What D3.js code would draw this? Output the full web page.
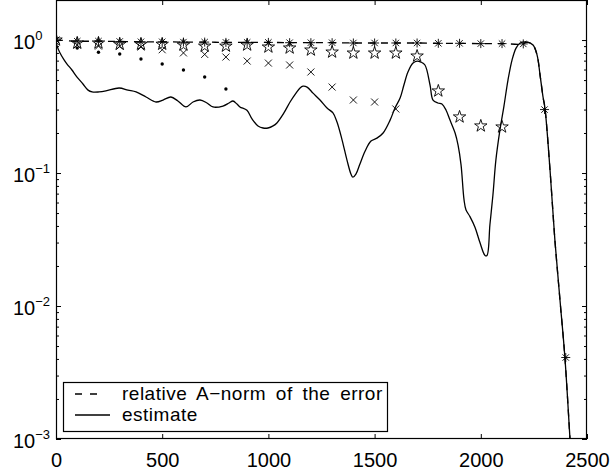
<!DOCTYPE html>
<html>
<head>
<meta charset="utf-8">
<script src="https://cdn.jsdelivr.net/npm/d3@7"></script>
<style>
  body { margin: 0; background: #fff; }
  svg { font-family: "Liberation Sans", Arial, sans-serif; }
  .domain { display: none; }
  .tick line { stroke: #000; stroke-width: 1; }
</style>
</head>
<body>
<svg id="viz" width="611" height="474"></svg>
<script>
// relative A-norm of the error (asterisks + dashed line)
var errIter = [0,100,200,300,400,500,600,700,800,900,1000,1100,1200,1300,1400,1500,1600,1700,1800,1900,2000,2100,2200,2300,2400];
var errVal  = [1,0.98,0.98,0.975,0.97,0.97,0.965,0.965,0.96,0.96,0.96,0.955,0.955,0.955,0.95,0.95,0.95,0.95,0.945,0.945,0.94,0.94,0.935,0.3,0.0041];
// dashed line after 2200 (runs together with the estimate)
var errTailIter = [2217,2246,2265,2279,2293,2302,2326,2349,2373,2396,2420,2429];
var errTailVal  = [0.966,0.917,0.771,0.545,0.373,0.308,0.105,0.031,0.011,0.0041,0.001,0.0006];

// other estimates shown with markers only
var starIter = [0,100,200,300,400,500,600,700,800,900,1000,1100,1200,1300,1400,1500,1600,1700,1800,1900,2000,2100];
var starVal  = [1,0.95,0.95,0.93,0.93,0.93,0.917,0.9,0.9,0.917,0.886,0.871,0.841,0.812,0.798,0.798,0.798,0.758,0.414,0.264,0.226,0.222];
var crossIter = [0,100,200,300,400,500,600,700,800,900,1000,1100,1200,1300,1400,1500,1600];
var crossVal  = [1,0.917,0.9,0.9,0.886,0.845,0.8,0.78,0.745,0.695,0.671,0.649,0.575,0.443,0.354,0.342,0.303];
var dotIter = [0,100,200,300,400,500,600,700,800];
var dotVal  = [1,0.87,0.81,0.785,0.72,0.66,0.595,0.527,0.428];

// estimate (solid line)
var estIter = [0,5,19,38,52,75,99,127,151,170,202,235,297,339,377,424,471,504,541,574,612,645,678,711,739,786,815,833,852,866,899,923,951,975,998,1022,1040,1073,1102,1130,1149,1163,1182,1210,1243,1276,1304,1323,1347,1370,1389,1398,1412,1431,1455,1483,1511,1540,1573,1596,1620,1638,1657,1681,1700,1718,1737,1761,1775,1798,1817,1836,1855,1879,1893,1907,1921,1930,1949,1973,1996,2020,2029,2043,2057,2071,2090,2109,2128,2147,2166,2185,2217,2246,2265,2279,2293,2302,2326,2349,2373,2396,2420,2429];
var estVal  = [1,0.9,0.8,0.71,0.66,0.595,0.527,0.467,0.42,0.407,0.407,0.414,0.436,0.42,0.407,0.373,0.342,0.354,0.373,0.348,0.314,0.342,0.354,0.336,0.314,0.319,0.336,0.348,0.33,0.314,0.296,0.255,0.226,0.218,0.218,0.226,0.238,0.283,0.342,0.399,0.436,0.45,0.443,0.399,0.354,0.308,0.283,0.242,0.177,0.125,0.098,0.093,0.098,0.117,0.146,0.174,0.183,0.2,0.25,0.308,0.366,0.459,0.575,0.671,0.695,0.683,0.649,0.459,0.354,0.336,0.33,0.298,0.25,0.2,0.162,0.115,0.063,0.053,0.047,0.039,0.03,0.024,0.024,0.041,0.068,0.125,0.21,0.319,0.5,0.707,0.87,0.949,0.966,0.917,0.771,0.545,0.373,0.308,0.105,0.031,0.011,0.0041,0.001,0.0006];

var xTicks = [0,500,1000,1500,2000,2500];
var yTicks = [1e-3,1e-2,1e-1,1];
var yExp = ["\u22123","\u22122","\u22121","0"];
var legendLabels = ["relative A\u2212norm of the error", "estimate"];

var margin = {left: 56, right: 24, top: 0, bottom: 35};
var W = 611, H = 474;
var plotW = W - margin.left - margin.right;   // 531
var plotH = H - margin.top - margin.bottom;   // 439

var svg = d3.select("#viz");
var x = d3.scaleLinear().domain([0, 2500]).range([margin.left, margin.left + plotW]);
var y = d3.scaleLog().domain([1e-3, 2]).range([margin.top + plotH, margin.top]);

svg.append("clipPath").attr("id", "clip")
  .append("rect").attr("x", margin.left).attr("y", margin.top).attr("width", plotW).attr("height", plotH);

// minor log ticks
var minor = [];
[1e-3, 1e-2, 1e-1, 1].forEach(function(d){
  for (var k = 2; k <= 9; k++) { if (d * k <= 2) minor.push(d * k); }
});

function yAxis(side, size, vals) {
  var ax = (side === "left" ? d3.axisLeft(y) : d3.axisRight(y)).tickValues(vals).tickSize(size).tickFormat("");
  svg.append("g").attr("transform", "translate(" + (side === "left" ? margin.left : margin.left + plotW) + ",0)").call(ax);
}
yAxis("left", -5, yTicks);
yAxis("left", -3, minor);
yAxis("right", -5, yTicks);
yAxis("right", -3, minor);

svg.append("g").attr("transform", "translate(0," + (margin.top + plotH) + ")")
  .call(d3.axisBottom(x).tickValues(xTicks).tickSize(-5).tickPadding(14).tickFormat(d3.format("d")))
  .selectAll("text").attr("font-size", 20).attr("fill", "#000").attr("font-family", "Liberation Sans, Arial, sans-serif");
svg.append("g").attr("transform", "translate(0," + margin.top + ")")
  .call(d3.axisTop(x).tickValues(xTicks).tickSize(-5).tickFormat(""));

// y labels 10^n
yTicks.forEach(function(d, i){
  var t = svg.append("text").attr("x", 13).attr("y", y(d) + 9)
    .attr("font-size", 20).attr("fill", "#000");
  t.append("tspan").text("10");
  t.append("tspan").attr("dy", -9).attr("font-size", 13).text(yExp[i]);
});

// frame
svg.append("rect").attr("x", margin.left + 0.5).attr("y", margin.top + 0.5)
  .attr("width", plotW - 1).attr("height", plotH - 1)
  .attr("fill", "none").attr("stroke", "#000").attr("stroke-width", 1.2);

var plot = svg.append("g").attr("clip-path", "url(#clip)");

var line = d3.line().curve(d3.curveCatmullRom).x(function(d){ return x(d[0]); }).y(function(d){ return y(d[1]); });

var errPts = d3.zip(errIter.slice(0, 23), errVal.slice(0, 23)).concat(d3.zip(errTailIter, errTailVal));
var estPts = d3.zip(estIter, estVal);

plot.append("path").datum(errPts).attr("d", line)
  .attr("fill", "none").attr("stroke", "#000").attr("stroke-width", 1.3).attr("stroke-dasharray", "7,6");
plot.append("path").datum(estPts).attr("d", line)
  .attr("fill", "none").attr("stroke", "#000").attr("stroke-width", 1.3);

// markers
var star5 = d3.symbol().type(d3.symbolStar).size(48);
plot.selectAll(".star").data(d3.zip(starIter, starVal)).enter().append("path")
  .attr("transform", function(d){ return "translate(" + x(d[0]) + "," + y(d[1]) + ")"; })
  .attr("d", star5).attr("fill", "none").attr("stroke", "#000").attr("stroke-width", 0.9);

plot.selectAll(".cross").data(d3.zip(crossIter, crossVal)).enter().append("path")
  .attr("transform", function(d){ return "translate(" + x(d[0]) + "," + y(d[1]) + ")"; })
  .attr("d", "M-3.5,-3.5L3.5,3.5M-3.5,3.5L3.5,-3.5").attr("stroke", "#000").attr("stroke-width", 0.9);

plot.selectAll(".dot").data(d3.zip(dotIter, dotVal)).enter().append("circle")
  .attr("cx", function(d){ return x(d[0]); }).attr("cy", function(d){ return y(d[1]); })
  .attr("r", 1.7).attr("fill", "#000");

plot.selectAll(".ast").data(d3.zip(errIter, errVal)).enter().append("path")
  .attr("transform", function(d){ return "translate(" + x(d[0]) + "," + y(d[1]) + ")"; })
  .attr("d", "M-4.5,0L4.5,0M0,-4.5L0,4.5M-3.2,-3.2L3.2,3.2M-3.2,3.2L3.2,-3.2").attr("stroke", "#000").attr("stroke-width", 0.9);

// legend
var lg = svg.append("g");
lg.append("rect").attr("x", 63.5).attr("y", 382.5).attr("width", 324).attr("height", 49)
  .attr("fill", "#fff").attr("stroke", "#000").attr("stroke-width", 1.2);
[0, 1].forEach(function(i){
  var ly = 394 + i * 21;
  lg.append("line").attr("x1", 75).attr("x2", i === 0 ? 98 : 110).attr("y1", ly).attr("y2", ly)
    .attr("stroke", "#000").attr("stroke-width", 1.3)
    .attr("stroke-dasharray", i === 0 ? "7,8" : null);
  lg.append("text").attr("x", 122).attr("y", ly + 6).attr("font-size", 19)
    .attr("letter-spacing", 0.5).attr("word-spacing", i === 0 ? 4 : 0)
    .attr("fill", "#000").text(legendLabels[i]);
});
</script>
</body>
</html>
